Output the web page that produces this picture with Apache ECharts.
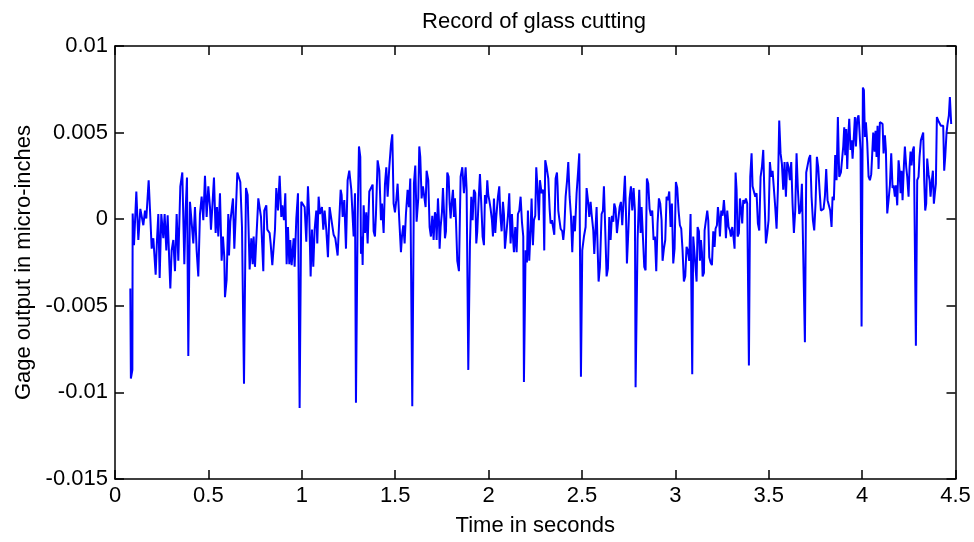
<!DOCTYPE html>
<html>
<head>
<meta charset="utf-8">
<script src="https://cdn.jsdelivr.net/npm/echarts@6/dist/echarts.min.js"></script>
<style>
  html, body { margin: 0; padding: 0; background: #fff; }
  #chart { width: 974px; height: 542px; }
</style>
</head>
<body>
<div id="chart"></div>
<script>
// Samples: [time in seconds, gage output]
const samples0to1 = [
  [0.0820, -0.0040], [0.0850, -0.0092], [0.0930, -0.0087], [0.0946, 0.00033], [0.1017, -0.0015],
  [0.1142, 0.0016], [0.1249, -0.0012], [0.1356, 0.0006], [0.1427, 0.0005], [0.1517, -0.00035],
  [0.1606, 0.0005], [0.1677, 0.00004], [0.1802, 0.00225], [0.1891, 0.00013], [0.1963, -0.0017],
  [0.2052, -0.0011], [0.2177, -0.0032], [0.2248, -0.0012], [0.2319, 0.0003], [0.2391, -0.0034],
  [0.2480, 0.0003], [0.2587, -0.0011], [0.2658, 0.0003], [0.2748, -0.0018], [0.2819, 0.00023],
  [0.2908, -0.0025], [0.2962, -0.0040], [0.3033, -0.0018], [0.3122, -0.0012], [0.3211, -0.0030],
  [0.3301, 0.0003], [0.3390, -0.0024], [0.3497, 0.0019], [0.3604, 0.0027], [0.3711, -0.0026],
  [0.3782, 0.0005], [0.3853, 0.0024], [0.3925, -0.0079], [0.4014, 0.0010], [0.4103, 0.0009],
  [0.4193, -0.0014], [0.4282, 0.0007], [0.4371, -0.0018], [0.4460, -0.0033], [0.4549, 0.0003],
  [0.4639, 0.0013], [0.4728, -0.00006], [0.4817, 0.0025], [0.4906, 0.00013], [0.4996, 0.0019],
  [0.5085, 0.0007], [0.5138, -0.0006], [0.5210, 0.0007], [0.5299, 0.0024], [0.5388, -0.0008],
  [0.5459, 0.0007], [0.5531, -0.0010], [0.5620, 0.0015], [0.5709, -0.0024], [0.5780, -0.0010],
  [0.5852, -0.0022], [0.5888, -0.0045], [0.5976, -0.0035], [0.6066, 0.0003], [0.6103, -0.0021],
  [0.6174, -0.00015], [0.6263, 0.0007], [0.6317, 0.0012], [0.6388, -0.0017], [0.6460, 0.00013],
  [0.6549, 0.0027], [0.6620, 0.0028], [0.6709, 0.00215], [0.6799, -0.00045], [0.6906, -0.0095],
  [0.7013, 0.0018], [0.7102, 0.0014], [0.7209, -0.0029], [0.7298, -0.0011], [0.7370, -0.0026],
  [0.7423, -0.0010], [0.7494, -0.00275], [0.7584, -0.00265], [0.7673, 0.0012], [0.7744, 0.0011],
  [0.7816, 0.00013], [0.7940, -0.0030], [0.7992, 0.0005], [0.8101, 0.0008], [0.8155, -0.0006],
  [0.8279, -0.0008], [0.8333, -0.0014], [0.8422, -0.00265], [0.8494, -0.0016], [0.8565, -0.0006],
  [0.8636, 0.0018], [0.8726, 0.0005], [0.8815, 0.0025], [0.8904, 0.00013], [0.8957, 0.0008],
  [0.9047, -0.00006], [0.9118, 0.0015], [0.9189, -0.0026], [0.9261, -0.00045], [0.9332, -0.0026],
  [0.9385, -0.0012], [0.9457, -0.00265], [0.9564, -0.0011], [0.9617, -0.00275], [0.9707, 0.00004],
  [0.9796, 0.0015], [0.9885, -0.0109], [0.9974, 0.0010]
];
const samples1to2 = [
  [1.0081, 0.0009], [1.0153, 0.0007], [1.0242, -0.0013], [1.0331, 0.0019], [1.0402, 0.00013],
  [1.0474, -0.0033], [1.0545, -0.0006], [1.0616, -0.00275], [1.0688, -0.0006], [1.0777, 0.0005],
  [1.0830, -0.0014], [1.0902, 0.0013], [1.0973, 0.0003], [1.1080, 0.0007], [1.1152, -0.0006],
  [1.1223, 0.0005], [1.1312, -0.0006], [1.1401, -0.0022], [1.1490, 0.0007], [1.1580, 0.0008],
  [1.1706, -0.0009], [1.1795, -0.0011], [1.1920, -0.0021], [1.2009, -0.0020], [1.2081, 0.0017],
  [1.2134, 0.0014], [1.2188, 0.00013], [1.2277, 0.0011], [1.2366, -0.0017], [1.2455, 0.00225],
  [1.2544, 0.0028], [1.2651, 0.0017], [1.2723, 0.00013], [1.2776, -0.0010], [1.2848, 0.0015],
  [1.2901, -0.0106], [1.2990, -0.00006], [1.3062, 0.0042], [1.3133, 0.0036], [1.3169, -0.0020],
  [1.3222, -0.0010], [1.3258, -0.00265], [1.3312, 0.0008], [1.3383, -0.0008], [1.3454, 0.0004],
  [1.3526, -0.0014], [1.3615, 0.0016], [1.3704, 0.0015], [1.3793, 0.0020], [1.3847, -0.0007],
  [1.3918, -0.0010], [1.3972, 0.0003], [1.4061, 0.0034], [1.4150, 0.0028], [1.4239, -0.00006],
  [1.4293, 0.0009], [1.4382, -0.0008], [1.4453, 0.0020], [1.4525, 0.0030], [1.4596, 0.0013],
  [1.4685, 0.0030], [1.4774, 0.0043], [1.4846, 0.0049], [1.4917, 0.0009], [1.4989, 0.0004],
  [1.5060, 0.0011], [1.5131, 0.00205], [1.5220, -0.00006], [1.5310, -0.0019], [1.5363, -0.0010],
  [1.5434, -0.00035], [1.5506, -0.0014], [1.5577, 0.0003], [1.5666, 0.0017], [1.5738, 0.0007],
  [1.5809, 0.00235], [1.5916, -0.0108], [1.6005, 0.00205], [1.6077, 0.0031], [1.6148, -0.00015],
  [1.6237, 0.0012], [1.6291, 0.0042], [1.6344, 0.0036], [1.6416, 0.0012], [1.6487, 0.0019],
  [1.6559, 0.0020], [1.6630, 0.0007], [1.6683, 0.0028], [1.6773, 0.00225], [1.6844, -0.00045],
  [1.6915, -0.0010], [1.6987, 0.0002], [1.7058, -0.0012], [1.7130, 0.0004], [1.7183, 0.00013],
  [1.7220, -0.0012], [1.7291, 0.0012], [1.7345, -0.00006], [1.7380, -0.0017], [1.7434, -0.00045],
  [1.7505, 0.0004], [1.7559, 0.0018], [1.7612, 0.0005], [1.7666, -0.0011], [1.7719, -0.0007],
  [1.7791, 0.0027], [1.7862, 0.00245], [1.7916, 0.0009], [1.7969, 0.00004], [1.8023, 0.0009],
  [1.8094, 0.0017], [1.8148, 0.00013], [1.8201, 0.0012], [1.8255, -0.00006], [1.8326, -0.0024],
  [1.8415, -0.0030], [1.8504, 0.00245], [1.8594, 0.0030], [1.8683, 0.0015], [1.8772, 0.0030],
  [1.8826, 0.0017], [1.8915, -0.0087], [1.9004, -0.0014], [1.9075, 0.0013], [1.9146, -0.00006],
  [1.9218, 0.0017], [1.9289, 0.0015], [1.9343, -0.0014], [1.9396, -0.0007], [1.9468, 0.0011],
  [1.9539, 0.0026], [1.9610, 0.0009], [1.9682, -0.0010], [1.9753, -0.0015], [1.9807, 0.0014],
  [1.9878, 0.0009], [1.9932, 0.00225], [1.9985, 0.0014]
];
const samples2to3 = [
  [2.0039, 0.0011], [2.0110, 0.0006], [2.0181, -0.00006], [2.0235, -0.0010], [2.0288, 0.0012],
  [2.0360, -0.0008], [2.0413, 0.00013], [2.0503, 0.0013], [2.0574, 0.0019], [2.0627, 0.0003],
  [2.0699, -0.0007], [2.0770, 0.0010], [2.0824, 0.0003], [2.0877, -0.0017], [2.0949, -0.0016],
  [2.1038, 0.0002], [2.1109, 0.0015], [2.1180, -0.0014], [2.1252, 0.0003], [2.1305, -0.0010],
  [2.1359, -0.0019], [2.1430, -0.00045], [2.1502, -0.0019], [2.1573, 0.0003], [2.1645, 0.0005],
  [2.1716, 0.0013], [2.1787, -0.00015], [2.1858, -0.0010], [2.1894, -0.0094], [2.1983, -0.0018],
  [2.2055, -0.0025], [2.2108, 0.0005], [2.2179, -0.0024], [2.2251, -0.0006], [2.2304, 0.0012],
  [2.2376, -0.0015], [2.2429, -0.00006], [2.2500, 0.0002], [2.2554, 0.0030], [2.2625, 0.0017],
  [2.2697, -0.00006], [2.2750, 0.00225], [2.2839, 0.0015], [2.2928, 0.0017], [2.2982, -0.0018],
  [2.3035, 0.0034], [2.3107, 0.0030], [2.3198, 0.00235], [2.3269, 0.0006], [2.3323, -0.00025],
  [2.3394, -0.00006], [2.3465, 0.00004], [2.3519, -0.0009], [2.3590, 0.00235], [2.3662, 0.0027],
  [2.3697, 0.0019], [2.3733, 0.0005], [2.3786, 0.00004], [2.3858, -0.00055], [2.3947, -0.0007],
  [2.4001, -0.0012], [2.4054, -0.00055], [2.4126, 0.0013], [2.4197, 0.00215], [2.4268, 0.0033],
  [2.4340, 0.0013], [2.4411, 0.0002], [2.4482, -0.0019], [2.4554, 0.0002], [2.4625, -0.0007],
  [2.4714, 0.0015], [2.4803, 0.0029], [2.4857, 0.0038], [2.4946, -0.0091], [2.5017, -0.0018],
  [2.5107, -0.0010], [2.5196, -0.00045], [2.5249, 0.0018], [2.5321, 0.0011], [2.5392, 0.00013],
  [2.5463, 0.0010], [2.5517, 0.0003], [2.5606, -0.00065], [2.5660, -0.0020], [2.5731, -0.00045],
  [2.5785, 0.0007], [2.5838, -0.0016], [2.5892, -0.0036], [2.5963, -0.00275], [2.6052, 0.0003],
  [2.6124, 0.0005], [2.6177, 0.0019], [2.6248, -0.00065], [2.6320, -0.0033], [2.6391, -0.00285],
  [2.6463, 0.00013], [2.6534, -0.0012], [2.6605, 0.0002], [2.6677, -0.00015], [2.6730, 0.0009],
  [2.6801, 0.0006], [2.6873, -0.0008], [2.6944, -0.0009], [2.7016, 0.0007], [2.7087, 0.0010],
  [2.7158, -0.00035], [2.7230, 0.0011], [2.7301, 0.0025], [2.7355, 0.0005], [2.7408, -0.00255],
  [2.7480, -0.0008], [2.7551, 0.0012], [2.7622, 0.0019], [2.7694, 0.0005], [2.7765, 0.0018],
  [2.7836, 0.0005], [2.7872, -0.0097], [2.7926, -0.0096], [2.7979, -0.0012], [2.8068, 0.0017],
  [2.8140, -0.0008], [2.8193, 0.0007], [2.8264, -0.0010], [2.8336, -0.00275], [2.8407, -0.00295],
  [2.8478, 0.00235], [2.8550, 0.00205], [2.8621, 0.0006], [2.8693, 0.0002], [2.8764, 0.0005],
  [2.8835, -0.0012], [2.8907, -0.0010], [2.8978, -0.0030], [2.9049, -0.00025], [2.9121, 0.0012],
  [2.9192, 0.0009], [2.9263, -0.00006], [2.9317, -0.0024], [2.9388, -0.0017], [2.9460, -0.0012],
  [2.9531, 0.0013], [2.9602, 0.0011], [2.9674, 0.0016], [2.9745, -0.00045], [2.9816, 0.0009],
  [2.9888, -0.00255], [2.9959, -0.0017]
];
const samples3to4 = [
  [3.0030, 0.00215], [3.0102, 0.0018], [3.0173, 0.0005], [3.0244, -0.00035], [3.0316, -0.00055],
  [3.0387, -0.0018], [3.0458, -0.0036], [3.0530, -0.0033], [3.0601, -0.0016], [3.0673, -0.0018],
  [3.0744, -0.0024], [3.0815, 0.0003], [3.0905, -0.00895], [3.0958, -0.0010], [3.1014, -0.0018],
  [3.1085, -0.0017], [3.1138, -0.0036], [3.1192, -0.00045], [3.1263, -0.0007], [3.1317, -0.0024],
  [3.1370, -0.0012], [3.1424, -0.0019], [3.1460, -0.0033], [3.1531, -0.0031], [3.1567, -0.00065],
  [3.1638, -0.00055], [3.1709, 0.0005], [3.1763, -0.00006], [3.1816, -0.0022], [3.1888, -0.0025],
  [3.1959, -0.00265], [3.2031, -0.0007], [3.2102, -0.0016], [3.2155, -0.00055], [3.2227, -0.00035],
  [3.2280, 0.0007], [3.2334, 0.00013], [3.2387, -0.0010], [3.2459, 0.0005], [3.2530, 0.0002],
  [3.2601, 0.0011], [3.2655, 0.0003], [3.2708, -0.0011], [3.2780, 0.0005], [3.2851, -0.00045],
  [3.2922, -0.00065], [3.2976, -0.0010], [3.3047, -0.00045], [3.3119, -0.0011], [3.3172, -0.0017],
  [3.3226, 0.0027], [3.3279, 0.0017], [3.3333, -0.0010], [3.3404, -0.0008], [3.3458, 0.0012],
  [3.3511, 0.0007], [3.3582, -0.00025], [3.3636, 0.0011], [3.3707, 0.0009], [3.3779, 0.0012],
  [3.3850, 0.0009], [3.3939, -0.00845], [3.4011, 0.00245], [3.4082, 0.0038], [3.4136, 0.0019],
  [3.4207, 0.0018], [3.4278, 0.0013], [3.4350, 0.0015], [3.4421, -0.00025], [3.4493, -0.00065],
  [3.4564, 0.00245], [3.4635, 0.0030], [3.4707, 0.0040], [3.4778, 0.0011], [3.4849, -0.0014],
  [3.4921, -0.0008], [3.4992, -0.00006], [3.5063, 0.0033], [3.5135, 0.00245], [3.5206, 0.0028],
  [3.5277, 0.0027], [3.5349, 0.0007], [3.5420, -0.00055], [3.5491, 0.0017], [3.5563, 0.0057],
  [3.5634, 0.0038], [3.5706, 0.0032], [3.5777, 0.0017], [3.5848, 0.0033], [3.5920, 0.0013],
  [3.5991, 0.0033], [3.6062, 0.0030], [3.6134, 0.00225], [3.6205, 0.0033], [3.6276, 0.0009],
  [3.6348, -0.0008], [3.6419, 0.0005], [3.6490, 0.0038], [3.6562, 0.0017], [3.6633, 0.0003],
  [3.6705, 0.0005], [3.6776, 0.00205], [3.6847, 0.00215], [3.6937, -0.0071], [3.7008, 0.0027],
  [3.7079, 0.0028], [3.7151, 0.0035], [3.7222, 0.0037], [3.7293, 0.0013], [3.7365, -0.00006],
  [3.7436, -0.00065], [3.7507, 0.0009], [3.7579, 0.0036], [3.7650, 0.0030], [3.7721, 0.0017],
  [3.7793, 0.0005], [3.7864, 0.0004], [3.7935, 0.0006], [3.8007, 0.0013], [3.8078, 0.0029],
  [3.8150, 0.0011], [3.8221, 0.0012], [3.8292, 0.0005], [3.8364, -0.00045], [3.8417, 0.0013],
  [3.8488, 0.0011], [3.8560, 0.0037], [3.8631, 0.00225], [3.8702, 0.0059], [3.8774, 0.00245],
  [3.8865, 0.0027], [3.8918, 0.0026], [3.8990, 0.0042], [3.9043, 0.0053], [3.9097, 0.0037],
  [3.9150, 0.0052], [3.9204, 0.0029], [3.9257, 0.00475], [3.9311, 0.0058], [3.9382, 0.0040],
  [3.9436, 0.00455], [3.9489, 0.0035], [3.9561, 0.00485], [3.9614, 0.0059], [3.9668, 0.0042],
  [3.9739, 0.0058], [3.9810, 0.0060], [3.9882, 0.0059], [3.9917, 0.0040], [3.9971, -0.0062]
];
const samples4to45 = [
  [4.0042, 0.0076], [4.0096, 0.00745], [4.0149, 0.00475], [4.0203, 0.0056], [4.0274, 0.0044],
  [4.0346, 0.00245], [4.0417, 0.00225], [4.0488, 0.0026], [4.0542, 0.0038], [4.0595, 0.0050],
  [4.0667, 0.0039], [4.0720, 0.0051], [4.0774, 0.0036], [4.0827, 0.0054], [4.0881, 0.0029],
  [4.0952, 0.0056], [4.1024, 0.0057], [4.1095, 0.0055], [4.1149, 0.0038], [4.1220, 0.00485],
  [4.1273, 0.0040], [4.1345, 0.00033], [4.1416, 0.0011], [4.1487, 0.00195], [4.1559, 0.0038],
  [4.1630, 0.0018], [4.1684, 0.00195], [4.1755, 0.0013], [4.1809, 0.00195], [4.1880, 0.0008],
  [4.1952, 0.0034], [4.2005, 0.0028], [4.2058, 0.0015], [4.2112, 0.0028], [4.2165, 0.0011],
  [4.2237, 0.0031], [4.2290, 0.0042], [4.2362, 0.0030], [4.2415, 0.00245], [4.2487, 0.0013],
  [4.2540, 0.0030], [4.2593, 0.0039], [4.2647, 0.0031], [4.2718, 0.0040], [4.2772, 0.0042],
  [4.2825, 0.0041], [4.2879, -0.0073], [4.2950, 0.00225], [4.3022, 0.00245], [4.3075, 0.0036],
  [4.3146, 0.00455], [4.3218, 0.00465], [4.3271, 0.0050], [4.3325, 0.00225], [4.3378, 0.0005],
  [4.3432, 0.0009], [4.3485, 0.0035], [4.3557, 0.0026], [4.3610, 0.00225], [4.3664, 0.0013],
  [4.3735, 0.00225], [4.3789, 0.0028], [4.3842, 0.0009], [4.3896, 0.0015], [4.3949, 0.00205],
  [4.4003, 0.0059], [4.4074, 0.0057], [4.4145, 0.0056], [4.4217, 0.0054], [4.4270, 0.0055],
  [4.4342, 0.0054], [4.4395, 0.0028], [4.4449, 0.0036], [4.4520, 0.0050], [4.4574, 0.0055],
  [4.4645, 0.0060], [4.4699, 0.00705], [4.4770, 0.0055]
];

// Axis ranges / ticks
const xRange = [0, 4.5], xStep = 0.5;
const yRange = [-0.015, 0.01], yStep = 0.005;

const chartTitle = 'Record of glass cutting';
const xName = 'Time in seconds';
const yName = 'Gage output in micro-inches';

const seriesData = [].concat(samples0to1, samples1to2, samples2to3, samples3to4, samples4to45);

const FONT = '"Liberation Sans", Arial, Helvetica, sans-serif';
const FS = 22;
const axisLineStyle = { color: '#000', width: 1.5 };

function baseAxis(range, step) {
  return {
    type: 'value', min: range[0], max: range[1], interval: step,
    axisLine: { show: true, onZero: false, lineStyle: axisLineStyle },
    axisTick: { show: true, inside: true, length: 9, lineStyle: axisLineStyle },
    splitLine: { show: false },
    axisLabel: { show: true, color: '#000', fontSize: FS, fontFamily: FONT }
  };
}

const chart = echarts.init(document.getElementById('chart'), null, { renderer: 'canvas' });
chart.setOption({
  animation: false,
  backgroundColor: '#fff',
  title: {
    text: chartTitle, left: 529, top: 6, textAlign: 'center',
    textStyle: { color: '#000', fontSize: FS, fontWeight: 'normal', fontFamily: FONT }
  },
  grid: { left: 115, right: 18.5, top: 46, bottom: 63, containLabel: false },
  xAxis: [
    Object.assign(baseAxis(xRange, xStep), {
      position: 'bottom',
      axisLabel: { color: '#000', fontSize: FS, fontFamily: FONT, margin: 6 },
      name: xName, nameLocation: 'middle', nameGap: 36,
      nameTextStyle: { color: '#000', fontSize: FS, fontFamily: FONT }
    }),
    Object.assign(baseAxis(xRange, xStep), { position: 'top', axisLabel: { show: false } })
  ],
  yAxis: [
    Object.assign(baseAxis(yRange, yStep), {
      position: 'left',
      axisLabel: { color: '#000', fontSize: FS, fontFamily: FONT, margin: 7 },
      name: yName, nameLocation: 'middle', nameGap: 79, nameRotate: 90,
      nameTextStyle: { color: '#000', fontSize: FS, fontFamily: FONT }
    }),
    Object.assign(baseAxis(yRange, yStep), { position: 'right', axisLabel: { show: false } })
  ],
  series: [{
    type: 'line',
    xAxisIndex: 0, yAxisIndex: 0,
    data: seriesData,
    showSymbol: false, symbol: 'none',
    sampling: null,
    lineStyle: { color: '#0000ff', width: 2 },
    emphasis: { disabled: true }
  }]
});
</script>
</body>
</html>
